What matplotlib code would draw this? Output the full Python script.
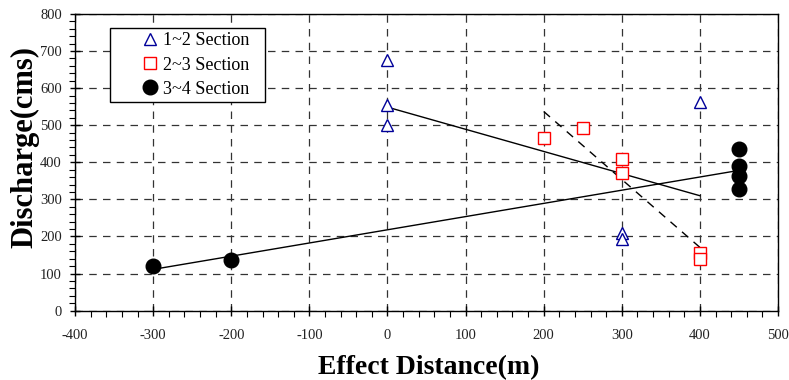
import numpy as np
import matplotlib.pyplot as plt
from matplotlib.ticker import MultipleLocator

plt.rcParams['font.family'] = ['Liberation Serif', 'DejaVu Serif']
plt.rcParams['axes.unicode_minus'] = False

# 1~2 Section
x12 = [0, 0, 0, 300, 300, 400]
y12 = [675, 555, 500, 210, 193, 562]
# 2~3 Section
x23 = [200, 250, 300, 300, 400, 400]
y23 = [465, 493, 410, 370, 155, 138]
# 3~4 Section
x34 = [-300, -200, 450, 450, 450, 450]
y34 = [120, 137, 435, 390, 362, 327]

fig = plt.figure(figsize=(7.89, 3.8), dpi=100)
ax = fig.add_axes([0.0951, 0.1824, 0.891, 0.781])

ax.plot(x12, y12, linestyle='none', marker='^', markersize=9,
        markerfacecolor='white', markeredgecolor='#000099', markeredgewidth=1.0,
        label='1~2 Section', zorder=4)
ax.plot(x23, y23, linestyle='none', marker='s', markersize=9,
        markerfacecolor='white', markeredgecolor='#ff0000', markeredgewidth=1.0,
        label='2~3 Section', zorder=4)
ax.plot(x34, y34, linestyle='none', marker='o', markersize=10.5,
        markerfacecolor='black', markeredgecolor='black',
        label='3~4 Section', zorder=4)

# linear trend lines over each data range
for xs, ys, ls in [(x12, y12, '-'), (x23, y23, (0, (6, 5))), (x34, y34, '-')]:
    k, b = np.polyfit(xs, ys, 1)
    xx = np.array([min(xs), max(xs)])
    ax.plot(xx, k * xx + b, color='black', linewidth=1.0, linestyle=ls, zorder=3)

ax.set_xlim(-400, 500)
ax.set_ylim(0, 800)
ax.xaxis.set_major_locator(MultipleLocator(100))
ax.xaxis.set_minor_locator(MultipleLocator(20))
ax.yaxis.set_major_locator(MultipleLocator(100))
ax.yaxis.set_minor_locator(MultipleLocator(20))
ax.tick_params(which='major', direction='inout', length=7, width=1,
               labelsize=10.5, labelcolor='#222222')
ax.tick_params(axis='x', which='major', pad=10)
ax.tick_params(axis='y', which='major', pad=6)
ax.tick_params(which='minor', direction='out', length=4, width=0.8)
ax.grid(True, which='major', color='#333333', linestyle=(0, (6, 5)), linewidth=0.9)
for s in ax.spines.values():
    s.set_linewidth(1.0)

ax.set_xlabel('Effect Distance(m)', fontsize=20, fontweight='bold', va='center')
ax.set_ylabel('Discharge(cms)', fontsize=22, fontweight='bold', va='center')
ax.xaxis.set_label_coords(0.503, -0.192)
ax.yaxis.set_label_coords(-0.071, 0.552)

leg = ax.legend(loc='upper left', bbox_to_anchor=(0.0498, 0.5, 0.2205, 0.453),
                mode='expand', fontsize=13,
                frameon=True, fancybox=False, edgecolor='black', framealpha=1,
                handletextpad=-1.25, handlelength=3.95, borderpad=0.25,
                labelspacing=0.4, borderaxespad=0)
leg.get_frame().set_linewidth(1.0)

fig.savefig('out.png', dpi=100)
